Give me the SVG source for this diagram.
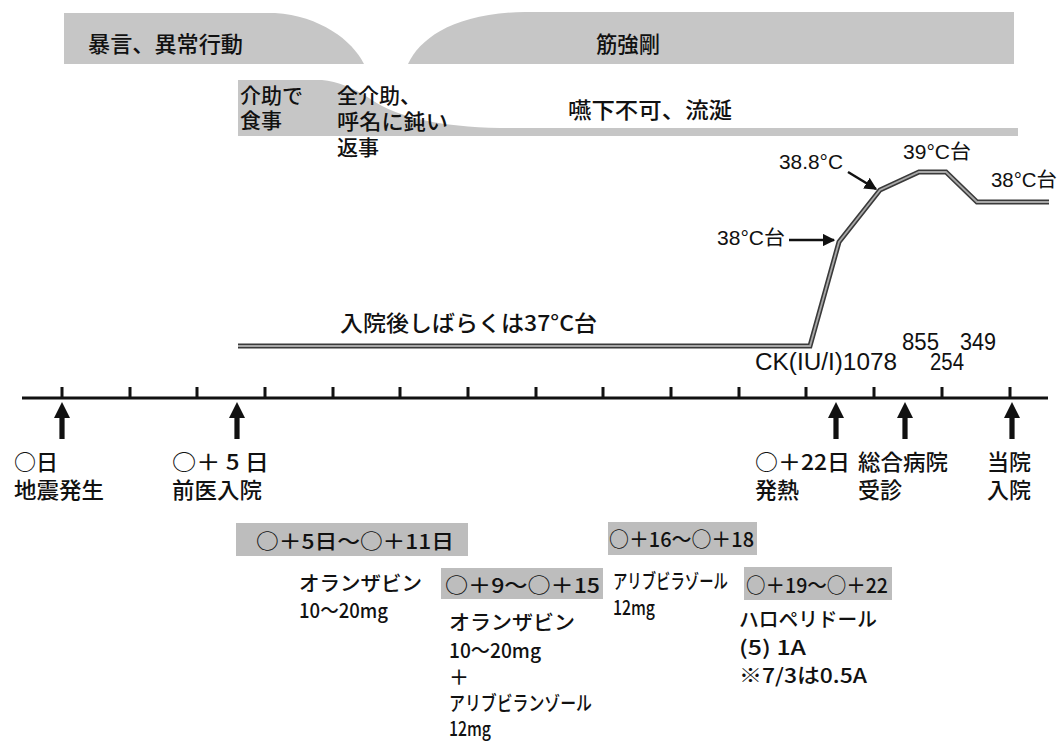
<svg xmlns="http://www.w3.org/2000/svg" xmlns:xlink="http://www.w3.org/1999/xlink" width="1062" height="742" viewBox="0 0 1062 742">
<style>
.band{fill:#c6c6c6}
.box{fill:#bdbdbd}
.jp{font-family:"Noto Sans CJK JP","Noto Sans CJK SC",sans-serif;fill:#111;dominant-baseline:central;font-weight:500}
.num{font-family:"Liberation Sans","Noto Sans CJK JP",sans-serif;fill:#111;dominant-baseline:central}
.f22{font-size:22px}
.f21{font-size:21px}
.f20{font-size:20px}
.tl{stroke:#111;stroke-width:3;fill:none}
.tick{stroke:#111;stroke-width:3}
.ptr{stroke:#111;stroke-width:2.5;fill:none}
</style>
<defs>
<path id="uparrow" d="M0,0 L8,16 L2.6,16 L2.6,37 L-2.6,37 L-2.6,16 L-8,16 Z" fill="#111"/>
<marker id="ah" viewBox="0 0 10 10" refX="9" refY="5" markerWidth="5" markerHeight="5" orient="auto" markerUnits="strokeWidth">
<path d="M0,0 L10,5 L0,10 Z" fill="#111"/>
</marker>
</defs>
<rect width="1062" height="742" fill="#fff"/>

<g id="band-behavior">
<path class="band" d="M64,13 H275 C320,16 352,40 364,64 H64 Z"/>
<text class="jp f22" x="88" y="42" textLength="155" lengthAdjust="spacingAndGlyphs">暴言、異常行動</text>
</g>
<g id="band-rigidity">
<path class="band" d="M408,64 C420,38 455,13 525,12 H1014 V64 Z"/>
<text class="jp f22" x="596" y="42" textLength="64" lengthAdjust="spacingAndGlyphs">筋強剛</text>
</g>

<g id="band-swallow">
<path class="band" d="M238,80 H322 Q345,82 372,100 Q410,126 500,128 H1018 V136 H238 Z"/>
<text class="jp f21" x="240" y="94">介助で</text>
<text class="jp f21" x="240" y="119">食事</text>
<text class="jp f21" x="337" y="94" textLength="84" lengthAdjust="spacingAndGlyphs">全介助、</text>
<text class="jp f21" x="337" y="120" textLength="111" lengthAdjust="spacingAndGlyphs">呼名に鈍い</text>
<text class="jp f21" x="337" y="146">返事</text>
<text class="jp f22" x="568" y="108" textLength="164" lengthAdjust="spacingAndGlyphs">嚥下不可、流涎</text>
</g>

<g id="temperature">
<polyline points="238,346 810,346 839,242 880,190 919,172 946,172 977,202 1049,202" fill="none" stroke="#3a3a3a" stroke-width="5"/>
<polyline points="238,346 810,346 839,242 880,190 919,172 946,172 977,202 1049,202" fill="none" stroke="#a8a8a8" stroke-width="1.8"/>
<text class="jp f22" x="340" y="321" textLength="257" lengthAdjust="spacingAndGlyphs">入院後しばらくは37°C台</text>
<text class="num f20" x="717" y="238" textLength="68" lengthAdjust="spacingAndGlyphs">38°C台</text>
<text class="num f20" x="779" y="162" textLength="64" lengthAdjust="spacingAndGlyphs">38.8°C</text>
<text class="num f20" x="903" y="152" textLength="68" lengthAdjust="spacingAndGlyphs">39°C台</text>
<text class="num f20" x="991" y="180" textLength="66" lengthAdjust="spacingAndGlyphs">38°C台</text>
</g>

<g id="connectors">
<line class="ptr" x1="789" y1="240" x2="834" y2="240" marker-end="url(#ah)"/>
<line class="ptr" x1="848" y1="172" x2="876" y2="189" marker-end="url(#ah)"/>
</g>

<g id="ck-values">
<text class="num" style="font-size:23px" x="755" y="362" textLength="142" lengthAdjust="spacingAndGlyphs">CK(IU/I)1078</text>
<text class="num" style="font-size:23px" x="902" y="342" textLength="37" lengthAdjust="spacingAndGlyphs">855</text>
<text class="num" style="font-size:23px" x="930" y="362" textLength="34" lengthAdjust="spacingAndGlyphs">254</text>
<text class="num" style="font-size:23px" x="960" y="342" textLength="36" lengthAdjust="spacingAndGlyphs">349</text>
</g>

<g id="timeline">
<line class="tl" x1="22" y1="398" x2="1048" y2="398"/>
<path class="tick" d="M62,387V398 M130,387V398 M197,387V398 M265,387V398 M333,387V398 M400,387V398 M468,387V398 M536,387V398 M603,387V398 M671,387V398 M739,387V398 M806,387V398 M874,387V398 M942,387V398 M1010,387V398"/>
</g>

<g id="event-day0">
<use xlink:href="#uparrow" x="62" y="402"/>
<text class="jp f22" x="14" y="460">○日</text>
<text class="jp f22" x="14" y="488" textLength="90" lengthAdjust="spacingAndGlyphs">地震発生</text>
</g>
<g id="event-day5">
<use xlink:href="#uparrow" x="237" y="402"/>
<text class="jp f22" x="172" y="460" textLength="97" lengthAdjust="spacingAndGlyphs">○＋ 5 日</text>
<text class="jp f22" x="172" y="488" textLength="90" lengthAdjust="spacingAndGlyphs">前医入院</text>
</g>
<g id="event-day22">
<use xlink:href="#uparrow" x="836" y="402"/>
<text class="jp f22" x="755" y="460" textLength="95" lengthAdjust="spacingAndGlyphs">○＋22日</text>
<text class="jp f22" x="755" y="488">発熱</text>
</g>
<g id="event-general">
<use xlink:href="#uparrow" x="905" y="402"/>
<text class="jp f22" x="858" y="460" textLength="90" lengthAdjust="spacingAndGlyphs">総合病院</text>
<text class="jp f22" x="858" y="488">受診</text>
</g>
<g id="event-admit">
<use xlink:href="#uparrow" x="1012" y="402"/>
<text class="jp f22" x="987" y="460">当院</text>
<text class="jp f22" x="987" y="488">入院</text>
</g>

<g id="med-1">
<rect class="box" x="236" y="523" width="232" height="33"/>
<text class="jp f20" x="256" y="540" textLength="198" lengthAdjust="spacingAndGlyphs">○＋5日～○＋11日</text>
<text class="jp f20" x="299" y="582" textLength="123" lengthAdjust="spacingAndGlyphs">オランザビン</text>
<text class="jp f20" x="299" y="609" textLength="89" lengthAdjust="spacingAndGlyphs">10～20mg</text>
</g>
<g id="med-2">
<rect class="box" x="441" y="568" width="162" height="31"/>
<text class="jp f20" x="445" y="584" textLength="155" lengthAdjust="spacingAndGlyphs">○＋9～○＋15</text>
<text class="jp f20" x="449" y="621" textLength="126" lengthAdjust="spacingAndGlyphs">オランザビン</text>
<text class="jp f20" x="449" y="649" textLength="92" lengthAdjust="spacingAndGlyphs">10～20mg</text>
<text class="jp f20" x="449" y="676">＋</text>
<text class="jp f20" x="449" y="702" textLength="143" lengthAdjust="spacingAndGlyphs">アリブビランゾール</text>
<text class="jp f20" x="449" y="727" textLength="42" lengthAdjust="spacingAndGlyphs">12mg</text>
</g>
<g id="med-3">
<rect class="box" x="608" y="522" width="149" height="33"/>
<text class="jp f20" x="609" y="538" textLength="145" lengthAdjust="spacingAndGlyphs">○＋16～○＋18</text>
<text class="jp f20" x="613" y="580" textLength="115" lengthAdjust="spacingAndGlyphs">アリブビラゾール</text>
<text class="jp f20" x="613" y="606" textLength="42" lengthAdjust="spacingAndGlyphs">12mg</text>
</g>
<g id="med-4">
<rect class="box" x="744" y="567" width="148" height="33"/>
<text class="jp f20" x="746" y="584" textLength="142" lengthAdjust="spacingAndGlyphs">○＋19～○＋22</text>
<text class="jp f20" x="739" y="618" textLength="138" lengthAdjust="spacingAndGlyphs">ハロペリドール</text>
<text class="jp f20" x="739" y="646" textLength="67" lengthAdjust="spacingAndGlyphs">(5)  1A</text>
<text class="jp f20" x="739" y="674" textLength="128" lengthAdjust="spacingAndGlyphs">※7/3は0.5A</text>
</g>
</svg>
